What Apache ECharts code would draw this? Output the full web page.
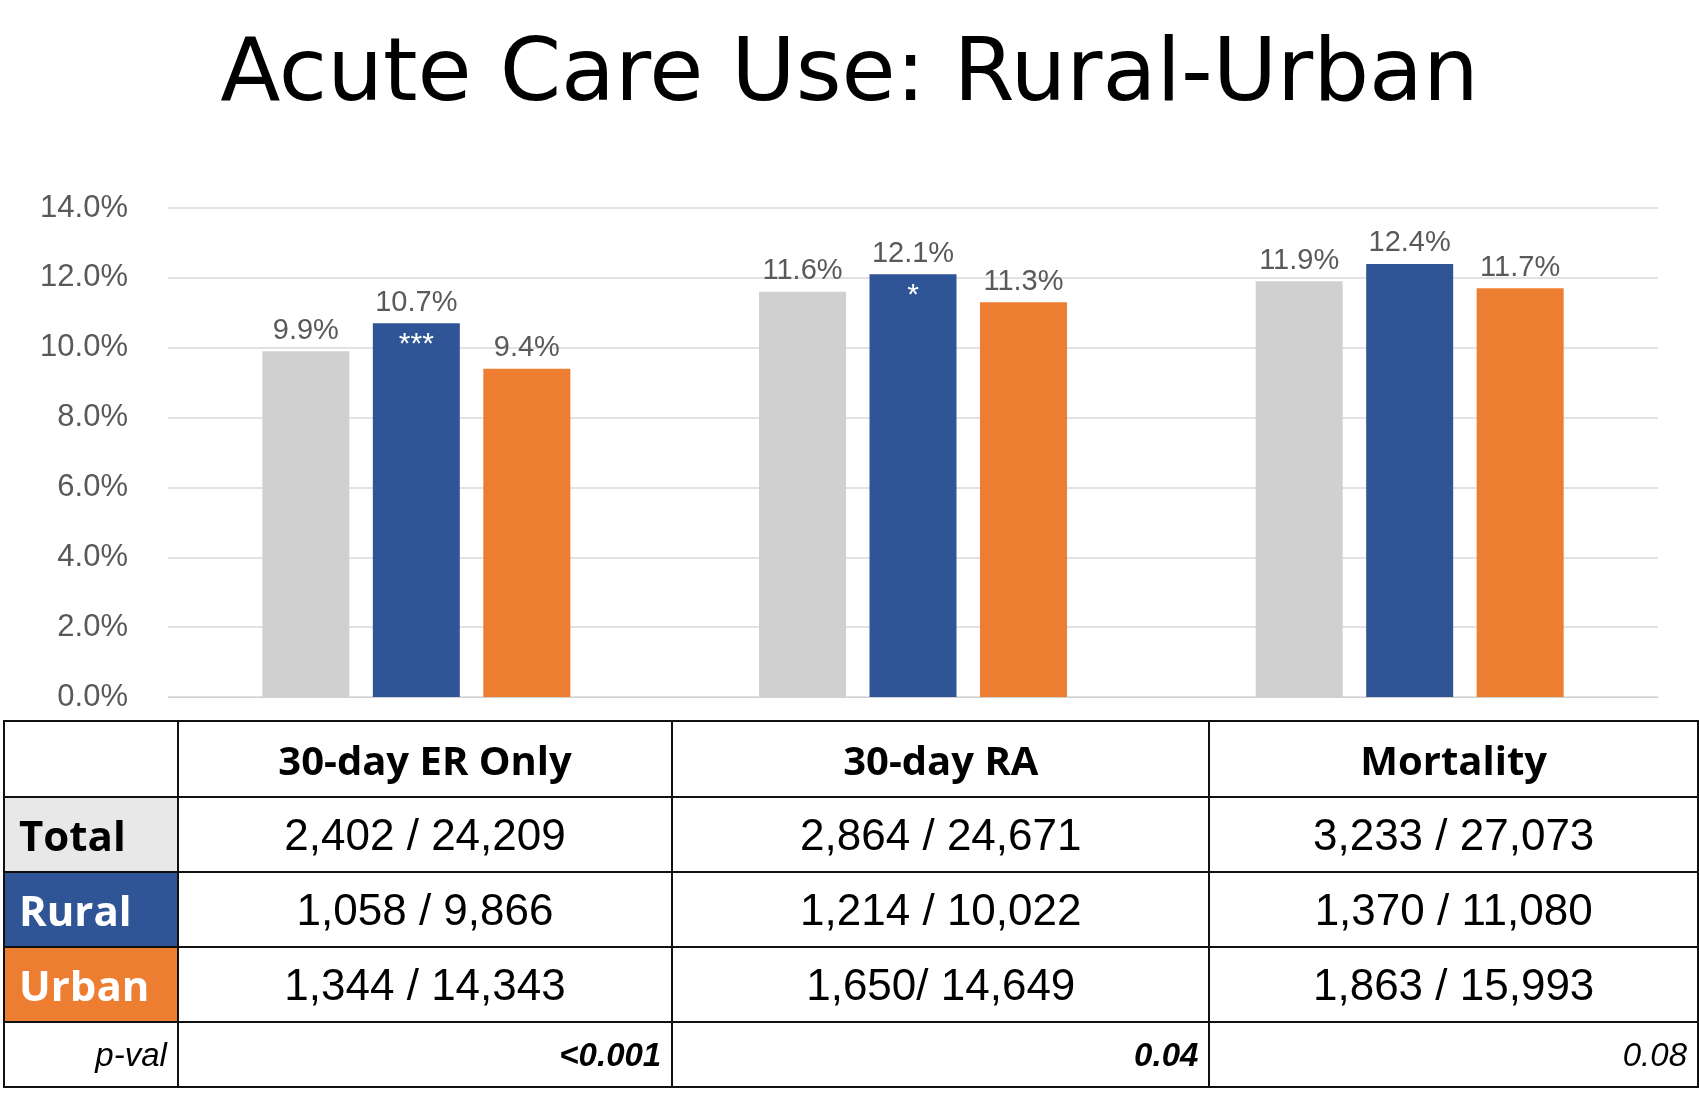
<!DOCTYPE html><html><head><meta charset="utf-8">
<script src="https://cdn.jsdelivr.net/npm/echarts@6/dist/echarts.min.js"></script>
<style>
body{margin:0;background:#fff;width:1699px;height:1103px;overflow:hidden;position:relative}
#c{position:absolute;left:0;top:0;width:1699px;height:1103px}
table{position:absolute;left:3px;top:720px;border-collapse:collapse;font-family:"Liberation Sans",Arial,sans-serif;}
td{border:2px solid #111;text-align:center;font-size:44px;color:#000;padding:0}
th{border:2px solid #111;font-family:"Open Sans","Noto Sans",sans-serif;font-weight:bold;font-size:40px}
.lab{font-family:"Open Sans","Noto Sans",sans-serif;font-weight:bold;text-align:left;padding-left:14px;font-size:42px}
.p{font-style:italic;font-size:33px;text-align:right;padding-right:10px}
</style></head><body>
<div id="c"></div>
<table id="t"></table>
<script>
const categories=["30-day ER Only","30-day RA","Mortality"];
const totalVals=[9.9,11.6,11.9];
const ruralVals=[10.7,12.1,12.4];
const urbanVals=[9.4,11.3,11.7];
const stars=["***","*",""];
const rowNames=["Total","Rural","Urban"];
const rowData=[["2,402 / 24,209","2,864 / 24,671","3,233 / 27,073"],["1,058 / 9,866","1,214 / 10,022","1,370 / 11,080"],["1,344 / 14,343","1,650/ 14,649","1,863 / 15,993"]];
const pvals=["<0.001","0.04","0.08"];
const pBold=[true,true,false];

const lbl={show:true,position:'top',color:'#595959',fontSize:29,fontFamily:'Liberation Sans',formatter:p=>p.value.toFixed(1)+'%',distance:6};
const chart=echarts.init(document.getElementById('c'));
chart.setOption({
 animation:false,
 title:{text:'Acute Care Use: Rural-Urban',left:'center',top:28,textStyle:{fontFamily:'DejaVu Sans',fontWeight:'normal',fontSize:88,color:'#000'}},
 grid:{left:168,right:41,top:208,bottom:406},
 xAxis:{type:'category',data:categories,axisLabel:{show:false},axisTick:{show:false},axisLine:{lineStyle:{color:'#d0d0d0'}}},
 yAxis:{type:'value',min:0,max:14,interval:2,axisLabel:{formatter:v=>v.toFixed(1)+'%',fontSize:31,color:'#595959',fontFamily:'Liberation Sans',margin:40},splitLine:{lineStyle:{color:'#d9d9d9',width:1.5}}},
 series:[
  {type:'bar',data:totalVals,barWidth:87,itemStyle:{color:'#d0d0d0'},label:lbl},
  {type:'bar',data:ruralVals,barWidth:87,itemStyle:{color:'#2f5597'},label:lbl,
   markPoint:{symbol:'circle',symbolSize:1,itemStyle:{color:'rgba(0,0,0,0)'},
    label:{show:true,position:'bottom',distance:6,color:'#fff',fontSize:30,fontFamily:'Liberation Sans',formatter:p=>p.name},
    data:categories.map((c,i)=>({name:stars[i],coord:[i,ruralVals[i]]})).filter(d=>d.name)}},
  {type:'bar',data:urbanVals,barWidth:87,barGap:'27%',itemStyle:{color:'#ed7d31'},label:lbl}
 ]
});
const widths=[174,494,537,488];
let h='<tr style="height:76px"><td style="width:'+(widths[0]-2)+'px"></td>'+categories.map((c,i)=>'<th style="width:'+(widths[i+1]-2)+'px">'+c+'</th>').join('')+'</tr>';
const bg=['#e8e8e8','#2f5597','#ed7d31'],fg=['#000','#fff','#fff'];
rowNames.forEach((r,i)=>{h+='<tr style="height:75px"><td class="lab" style="background:'+bg[i]+';color:'+fg[i]+'">'+r+'</td>'+rowData[i].map(v=>'<td>'+v+'</td>').join('')+'</tr>';});
h+='<tr style="height:65px"><td class="p">p-val</td>'+pvals.map((v,i)=>'<td class="p" style="font-weight:'+(pBold[i]?'bold':'normal')+'">'+v.replace('<','&lt;')+'</td>').join('')+'</tr>';
document.getElementById('t').innerHTML=h;
</script></body></html>
